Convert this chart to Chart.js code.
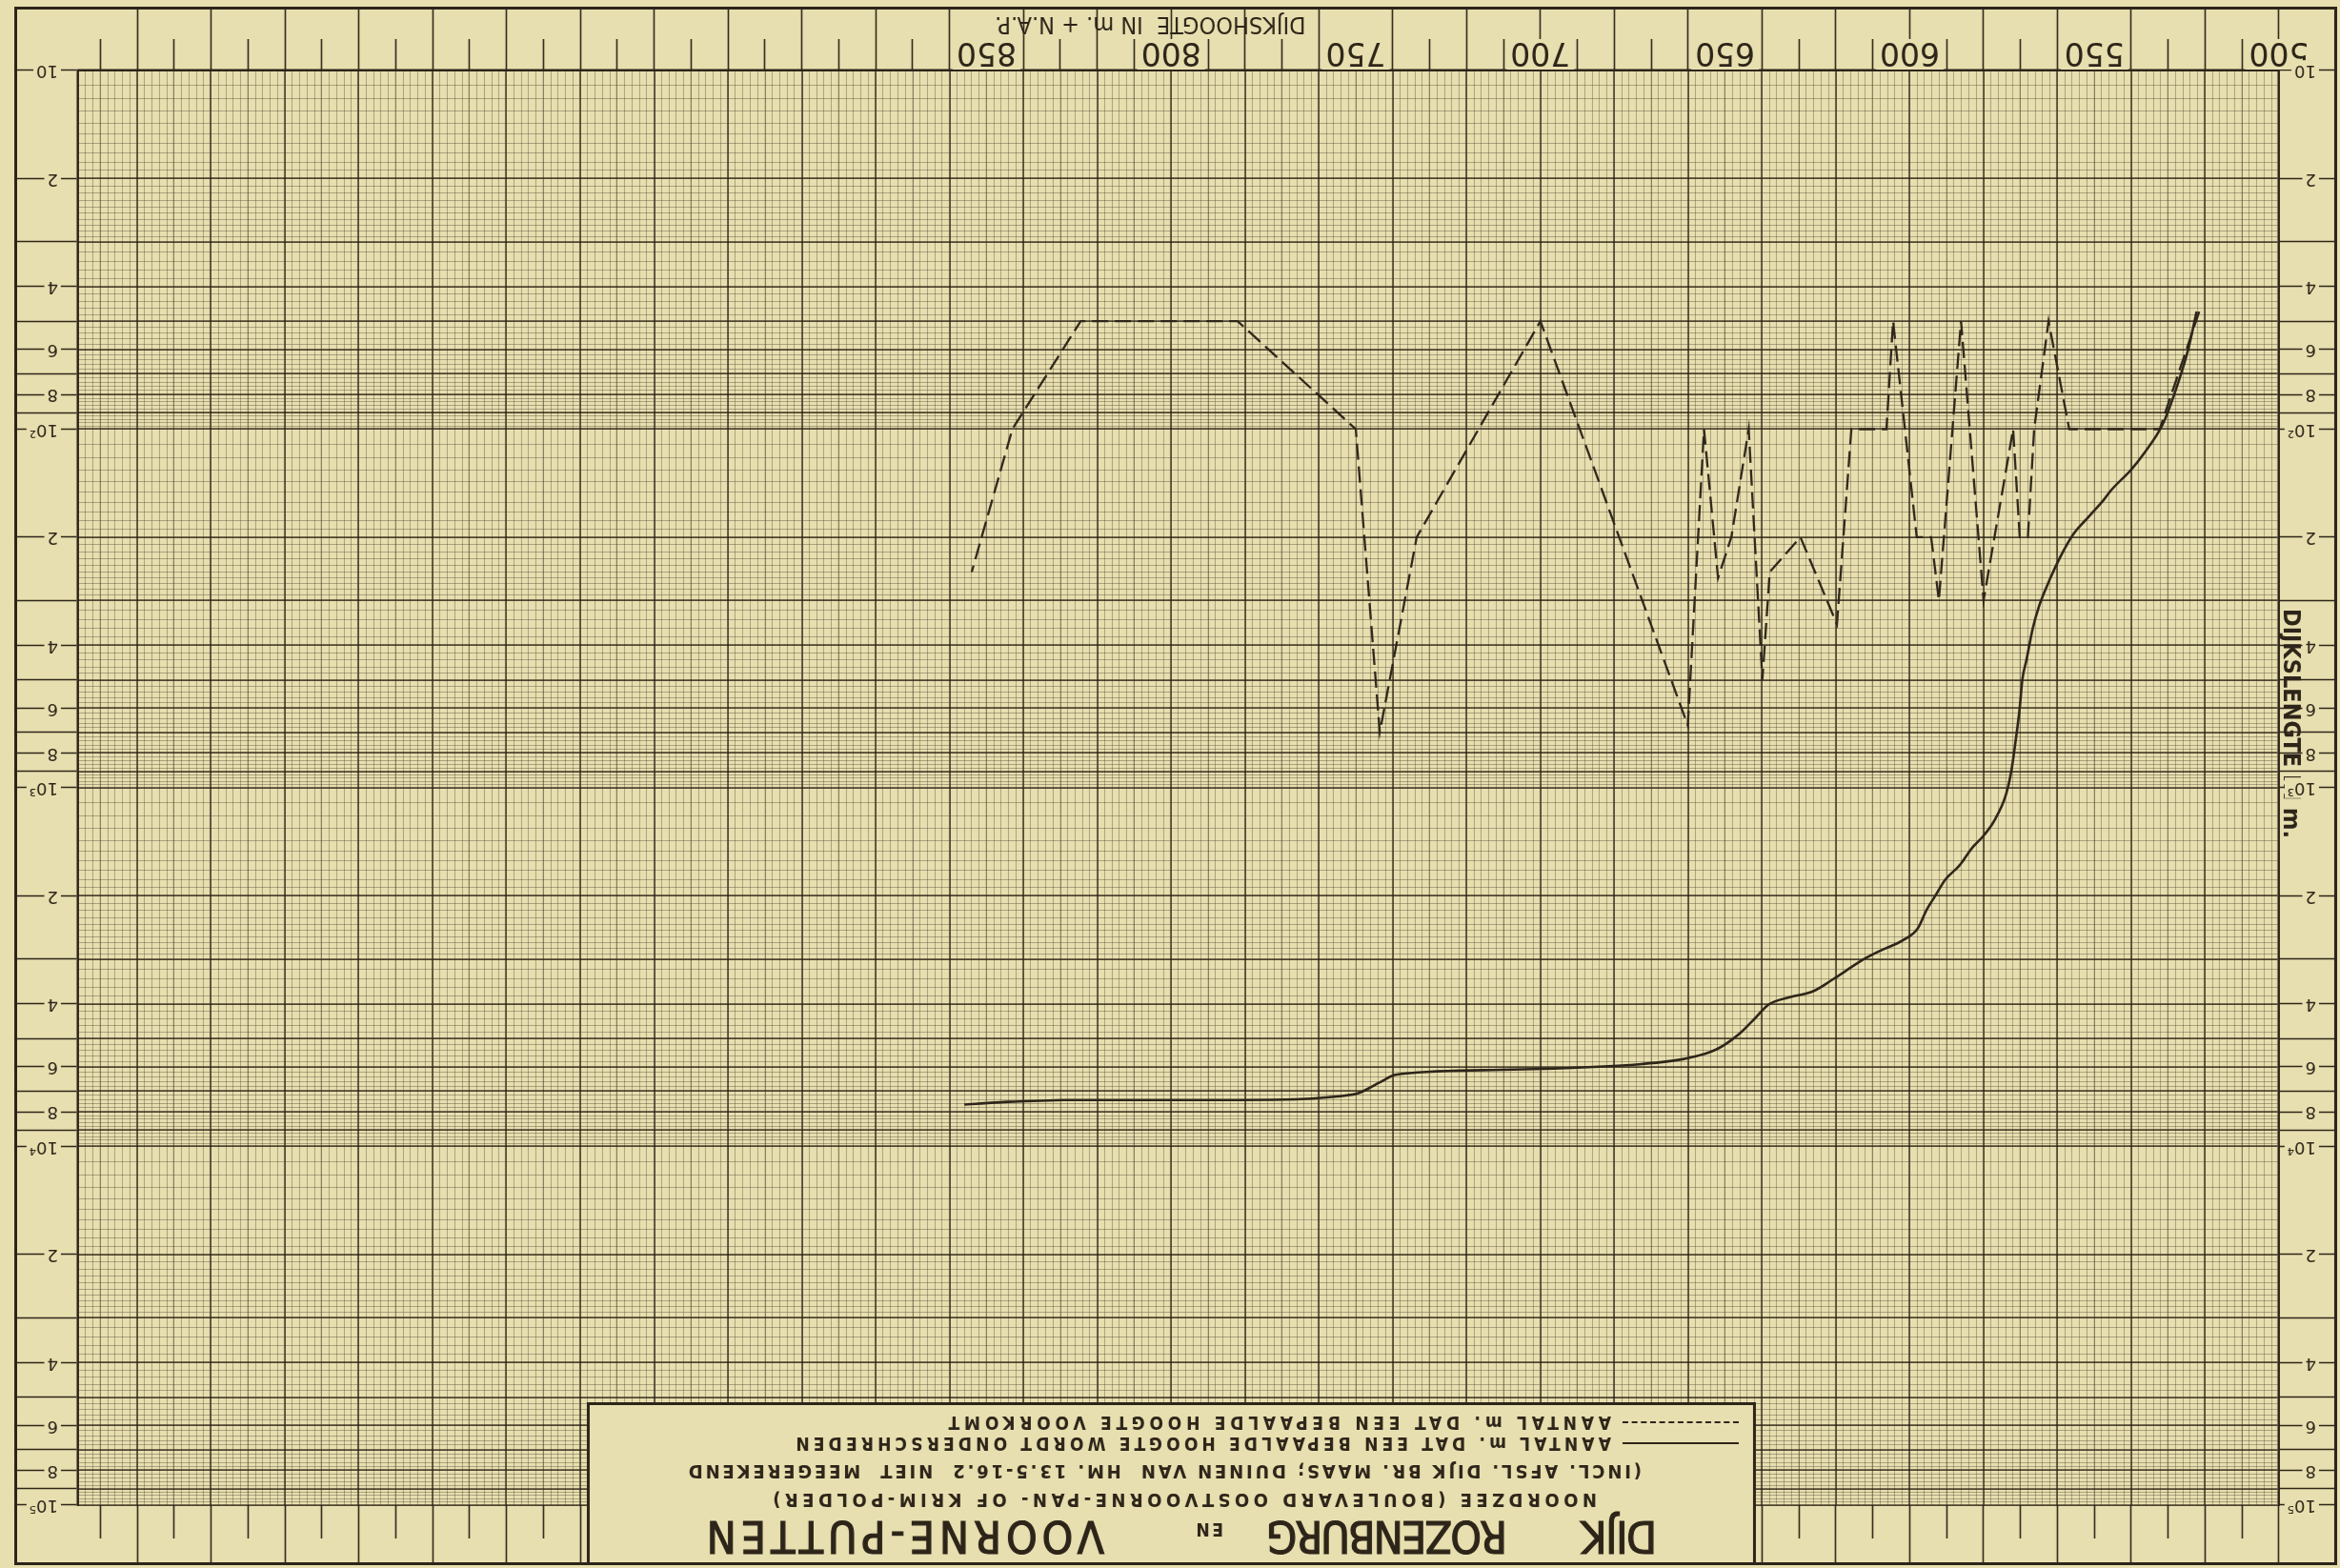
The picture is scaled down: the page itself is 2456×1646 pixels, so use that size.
<!DOCTYPE html>
<html lang="nl">
<head>
<meta charset="utf-8">
<title>Dijk Rozenburg en Voorne-Putten</title>
<script src="https://cdn.jsdelivr.net/npm/chart.js@4.4.1/dist/chart.umd.min.js"></script>
<style>
  html, body { margin: 0; padding: 0; background: #e8dfb0; }
  /* het blad is ondersteboven gescand: alles 180 graden gedraaid */
  #blad { position: relative; width: 2456px; height: 1646px; transform: rotate(180deg); background: #e8dfb0; overflow: hidden; }
  #grafiek { position: absolute; left: 0; top: 0; }
  #kader { position: absolute; left: 3px; top: 3px; width: 2438px; height: 1636px; border: 3px solid #2d2519; box-sizing: border-box; }
  #legenda { position: absolute; left: 613px; top: 3px; width: 1227px; height: 171px; background: #e8dfb0; border: 3px solid #2d2519; box-sizing: border-box; color: #2d2519; font-family: "DejaVu Sans Condensed", "DejaVu Sans", sans-serif; font-weight: bold; }
  #legenda div { position: absolute; white-space: pre; line-height: 1; }
  .titel { font-size: 46px; top: 4px; font-weight: normal; -webkit-text-stroke: 1.2px #2d2519; }
  .en { font-size: 19px; top: 25px; }
  .sub { font-size: 20px; }
  .item { font-size: 19px; }
  .lijn { width: 122px; height: 0; border-top: 2px solid #2d2519; }
  .lijn.streep { border-top: 2px dashed #2d2519; }
</style>
</head>
<body>
<div id="blad">
  <canvas id="grafiek" width="2456" height="1646"></canvas>
  <div id="kader"></div>
  <div id="legenda">
    <div class="titel" style="left:101px" data-w="78">DIJK</div>
    <div class="titel" style="left:258px" data-w="251">ROZENBURG</div>
    <div class="en" style="left:556px" data-w="31">EN</div>
    <div class="titel" style="left:681px" data-w="423">VOORNE-PUTTEN</div>
    <div class="sub" style="left:164px; top:55px" data-w="869">NOORDZEE (BOULEVARD OOSTVOORNE-PAN- OF KRIM-POLDER)</div>
    <div class="sub" style="left:117px; top:85px" data-w="1003">(INCL. AFSL. DIJK BR. MAAS; DUINEN VAN  HM. 13.5-16.2  NIET  MEEGEREKEND</div>
    <div class="lijn" style="left:15px; top:124px"></div>
    <div class="item" style="left:149px; top:115px" data-w="860">AANTAL m. DAT EEN BEPAALDE HOOGTE WORDT ONDERSCHREDEN</div>
    <div class="lijn streep" style="left:15px; top:146px"></div>
    <div class="item" style="left:149px; top:137px" data-w="700">AANTAL m. DAT EEN BEPAALDE HOOGTE VOORKOMT</div>
  </div>
</div>
<script>
// dijkshoogte in cm + N.A.P. (x), dijkslengte in m (y, logaritmisch)
const VOORKOMT_H = [521.6, 532.3, 556.8, 562.4, 566.3, 568, 570.2, 572, 580, 586.1, 592.1, 594.2, 598.1, 604.5, 606.3, 615.8, 619.7, 629.6, 637.9, 639.9, 643.6, 648.3, 651.9, 655.7, 660.1, 700, 733.5, 743.5, 750, 782, 824.5, 843, 854];
const VOORKOMT_M = [47, 100, 100, 50, 100, 200, 200, 100, 300, 50, 300, 200, 200, 50, 100, 100, 350, 200, 250, 500, 100, 200, 260, 100, 670, 50, 200, 700, 100, 50, 50, 100, 250];

const ONDER_H = [522.3, 524.6, 528, 531.5, 536.6, 540.1, 545.2, 547.8, 552.1, 555.5, 558.1, 560.7, 563.3, 565, 566.7, 568.4, 569.5, 570.2, 571.4, 572.5, 574, 577, 580, 583, 586.5, 590.5, 593, 595.5, 597.8, 601.9, 608, 612, 620.1, 626.1, 632.2, 638.2, 642.2, 646.3, 652.3, 660.4, 672.5, 713, 739.3, 743.3, 750.6, 781.8, 826.2, 842.5, 856];
const ONDER_M = [47, 60, 78, 97, 117, 130, 147, 159, 178, 195, 216, 244, 281, 312, 360, 441, 499, 598, 750, 900, 1050, 1230, 1360, 1467, 1645, 1810, 1995, 2197, 2465, 2663, 2847, 2987, 3383, 3690, 3831, 4021, 4427, 4869, 5360, 5680, 5890, 6120, 6310, 6610, 7160, 7420, 7420, 7500, 7640];

const X_LABELS = [500, 550, 600, 650, 700, 750, 800, 850];
const Y_LABEL_WAARDEN = [10, 20, 40, 60, 80, 100, 200, 400, 600, 800, 1000, 2000, 4000, 6000, 8000, 10000, 20000, 40000, 60000, 80000, 100000];
const Y_LABEL_TEKST = ['10', '2', '4', '6', '8', '10²', '2', '4', '6', '8', '10³', '2', '4', '6', '8', '10⁴', '2', '4', '6', '8', '10⁵'];

const X_MIN = 500, X_MAX = 1096;
const INKT = '#2d2519';
const PAPIER = '#e8dfb0';
const LETTER = '"DejaVu Sans Condensed", "DejaVu Sans", sans-serif';

const RASTER_HOOFD = 'rgba(40,31,18,0.8)';
const RASTER_HALF = 'rgba(50,40,25,0.55)';
const RASTER_FIJN = 'rgba(65,54,35,0.36)';

function stappen(stap) {
  const r = [];
  for (let v = X_MIN; v <= X_MAX; v += stap) r.push({ value: v });
  return r;
}

// millimeterpapier: 1-3 per 0.1, 3-10 per 0.2
function logRaster() {
  const r = [];
  for (let e = 1; e < 5; e++) {
    const b = Math.pow(10, e);
    for (let m = 10; m < 30; m += 1) r.push({ value: m * b / 10 });
    for (let m = 30; m < 100; m += 2) r.push({ value: m * b / 10 });
  }
  r.push({ value: 1e5 });
  return r;
}

function logStreepjes() {
  const r = [];
  for (let e = 1; e < 5; e++) {
    for (let m = 1; m < 10; m++) r.push({ value: m * Math.pow(10, e) });
  }
  r.push({ value: 1e5 });
  return r;
}

function heel(v, stap) {
  return Math.abs(v / stap - Math.round(v / stap)) < 1e-6;
}

function mantisse(v) {
  return v / Math.pow(10, Math.floor(Math.log10(v) + 1e-9));
}

function yLabel(v) {
  const i = Y_LABEL_WAARDEN.indexOf(v);
  return i >= 0 ? Y_LABEL_TEKST[i] : '';
}

const leeg = 'rgba(0,0,0,0)';

function marge(positie, gewicht, stap, lengte) {
  return {
    type: 'linear', position: positie, weight: gewicht, min: X_MIN, max: X_MAX,
    afterBuildTicks: (a) => { a.ticks = stappen(stap); },
    afterFit: (a) => { a.height = lengte; },
    ticks: { display: false },
    grid: { drawOnChartArea: false, drawTicks: true, tickLength: lengte, tickColor: INKT, tickWidth: 1.6 },
    border: { display: false }
  };
}

const xStreep = marge('bottom', 1, 10, 33);
xStreep.ticks = {
  display: true, autoSkip: false, maxRotation: 0, minRotation: 0, padding: -32,
  color: INKT, font: { family: '"DejaVu Sans", sans-serif', size: 33 },
  callback: (v) => (X_LABELS.includes(v) ? String(v) : ''),
  showLabelBackdrop: true,
  backdropColor: (c) => (X_LABELS.includes(c.tick.value) ? PAPIER : leeg),
  backdropPadding: { left: 4, right: 4, top: 0, bottom: 0 }
};

const xHoofd = marge('bottom', 2, 20, 34);
xHoofd.title = {
  display: true, text: '\u2003\u2003  DIJKSHOOGTE  IN m. + N.A.P.', color: INKT,
  font: { family: LETTER, size: 25 }, padding: { top: 0, bottom: 3 }
};

function yMarge(positie, breedte, opties) {
  return Object.assign({
    type: 'logarithmic', position: positie, weight: 1, min: 10, max: 1e5,
    afterBuildTicks: (a) => { a.ticks = logStreepjes(); },
    afterFit: (a) => { a.width = breedte; },
    grid: { drawOnChartArea: false, drawTicks: true, tickLength: breedte, tickColor: INKT, tickWidth: 1.6 },
    border: { display: false }
  }, opties);
}

const yTicks = (extra) => Object.assign({
  display: true, autoSkip: false, color: INKT,
  font: { family: '"DejaVu Sans", sans-serif', size: 18 },
  callback: (v) => yLabel(v),
  showLabelBackdrop: true,
  backdropColor: (c) => (yLabel(c.tick.value) ? PAPIER : leeg),
  backdropPadding: { left: 3, right: 3, top: 0, bottom: 0 }
}, extra);

new Chart(document.getElementById('grafiek'), {
  type: 'line',
  data: {
    datasets: [
      {
        label: 'AANTAL m. DAT EEN BEPAALDE HOOGTE WORDT ONDERSCHREDEN',
        data: ONDER_H.map((h, i) => ({ x: h, y: ONDER_M[i] })),
        borderColor: INKT, borderWidth: 2.6, pointRadius: 0,
        cubicInterpolationMode: 'monotone', xAxisID: 'x', yAxisID: 'y'
      },
      {
        label: 'AANTAL m. DAT EEN BEPAALDE HOOGTE VOORKOMT',
        data: VOORKOMT_H.map((h, i) => ({ x: h, y: VOORKOMT_M[i] })),
        borderColor: INKT, borderWidth: 2.3, borderDash: [17, 7], pointRadius: 0,
        tension: 0, xAxisID: 'x', yAxisID: 'y'
      }
    ]
  },
  options: {
    responsive: false, animation: false, devicePixelRatio: 1,
    layout: { padding: { left: 3, right: 15, top: 3, bottom: 7 } },
    plugins: { legend: { display: false }, tooltip: { enabled: false } },
    scales: {
      x: {
        type: 'linear', position: 'bottom', weight: 0, min: X_MIN, max: X_MAX,
        afterBuildTicks: (a) => { a.ticks = stappen(2); },
        afterFit: (a) => { a.height = 0; },
        ticks: { display: false },
        grid: {
          drawTicks: false,
          color: (c) => (heel(c.tick.value, 20) ? RASTER_HOOFD : heel(c.tick.value, 10) ? RASTER_HALF : RASTER_FIJN),
          lineWidth: (c) => (heel(c.tick.value, 20) ? 1.8 : heel(c.tick.value, 10) ? 1.2 : 1)
        },
        border: { display: true, color: INKT, width: 2.5 }
      },
      xStreep: xStreep,
      xHoofd: xHoofd,
      xStreepBoven: marge('top', 1, 10, 35),
      xHoofdBoven: marge('top', 2, 20, 28),
      y: {
        type: 'logarithmic', position: 'left', weight: 0, min: 10, max: 1e5,
        afterBuildTicks: (a) => { a.ticks = logRaster(); },
        afterFit: (a) => { a.width = 0; },
        ticks: { display: false },
        grid: {
          drawTicks: false,
          color: (c) => (heel(mantisse(c.tick.value), 1) ? RASTER_HOOFD : RASTER_FIJN),
          lineWidth: (c) => (heel(mantisse(c.tick.value), 1) ? 1.8 : 1)
        },
        border: { display: true, color: INKT, width: 2.5 }
      },
      yLinks: yMarge('left', 61, {
        ticks: yTicks({ mirror: true, padding: -39 }),
        title: {
          display: true, text: 'DIJKSLENGTE IN m.' + '\u2003'.repeat(6), color: INKT,
          font: { family: LETTER, size: 25, weight: 'bold' }, padding: { top: 34, bottom: 0 }
        }
      }),
      yRechts: yMarge('right', 67, {
        ticks: yTicks({ padding: -46 }),
        border: { display: true, color: INKT, width: 2.5 }
      })
    }
  }
});

// letterafstand zo zetten dat elke regel de breedte van het origineel krijgt
document.querySelectorAll('#legenda [data-w]').forEach((el) => {
  el.style.letterSpacing = '0px';
  const w = el.offsetWidth;
  const n = el.textContent.length;
  el.style.letterSpacing = ((+el.dataset.w - w) / n).toFixed(2) + 'px';
});
</script>
</body>
</html>
